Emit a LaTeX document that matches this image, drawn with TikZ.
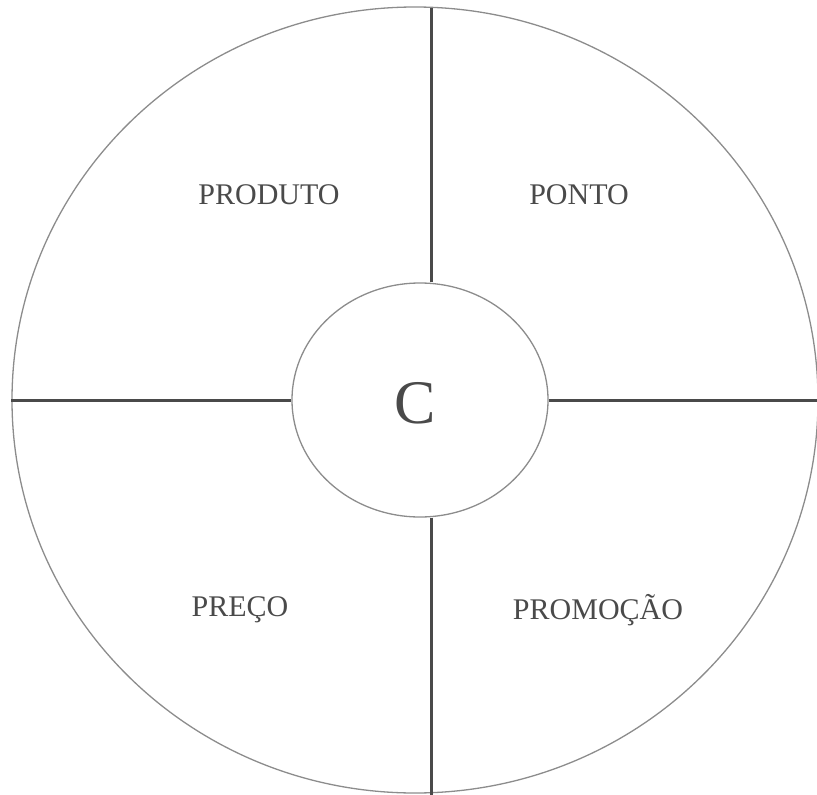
\documentclass[tikz,border=0pt]{standalone}
\usepackage{fontspec}
\setmainfont{Liberation Serif}
\usetikzlibrary{shapes.geometric}
\definecolor{inkgray}{HTML}{4A4A4A}
\definecolor{rimgray}{HTML}{8C8C8C}

\begin{document}
\begin{tikzpicture}[x=1pt, y=-1pt,
  ring/.style={draw=rimgray, line width=1.3pt, ellipse, inner sep=0pt},
  divider/.style={draw=inkgray, line width=3pt},
  tag/.style={text=inkgray, font=\fontsize{30}{36}\selectfont}]
  \useasboundingbox (0,0) rectangle (817,795);

  % Outer and inner rings
  \node[ring, minimum width=806pt, minimum height=786pt] (outer) at (415,400) {};
  \node[ring, fill=white, minimum width=256pt, minimum height=234pt] (hub) at (420,400) {};
  \node[text=inkgray, font=\fontsize{62}{70}\selectfont] (core) at (415,403) {C};

  % Dividers
  \coordinate (top) at (431,8);
  \coordinate (bottom) at (431,795);
  \coordinate (right) at (817,400);
  \draw[divider] (top) -- (hub.north -| top);
  \draw[divider] (hub.south -| bottom) -- (bottom);
  \draw[divider] (outer.west) -- (hub.west);
  \draw[divider] (hub.east) -- (right);

  % Quadrant labels
  \node[tag] (produto) at (269,195) {PRODUTO};
  \node[tag] (ponto) at (579,195) {PONTO};
  \node[tag] (preco) at (240,610) {PREÇO};
  \node[tag] (promocao) at (598,610) {PROMOÇÃO};
\end{tikzpicture}
\end{document}
